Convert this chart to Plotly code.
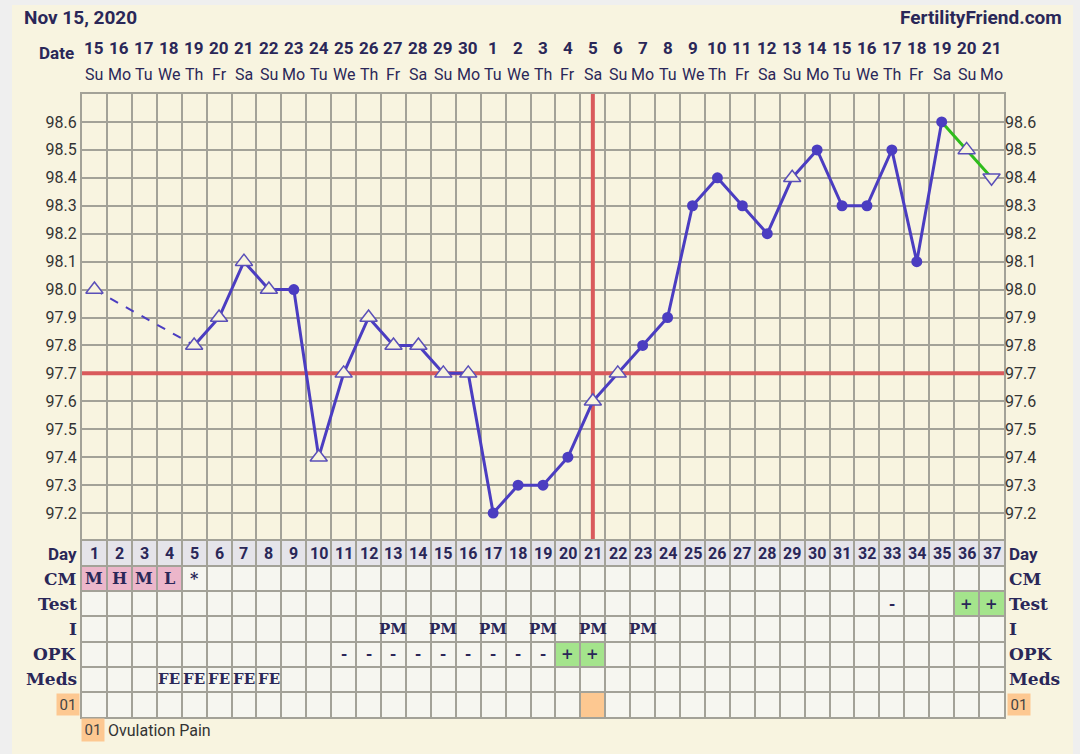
import plotly.graph_objects as go

W, H = 1080, 754

# ---------------- data ----------------
cycle_days = list(range(1, 38))
dates = [15, 16, 17, 18, 19, 20, 21, 22, 23, 24, 25, 26, 27, 28, 29, 30,
         1, 2, 3, 4, 5, 6, 7, 8, 9, 10, 11, 12, 13, 14, 15, 16, 17, 18, 19, 20, 21]
weekdays = ["Su", "Mo", "Tu", "We", "Th", "Fr", "Sa"] * 5 + ["Su", "Mo"]

temps = [98.0, None, None, None, 97.8, 97.9, 98.1, 98.0, 98.0, 97.4,
         97.7, 97.9, 97.8, 97.8, 97.7, 97.7, 97.2, 97.3, 97.3, 97.4,
         97.6, 97.7, 97.8, 97.9, 98.3, 98.4, 98.3, 98.2, 98.4, 98.5,
         98.3, 98.3, 98.5, 98.1, 98.6, 98.5, 98.4]
# marker kind: "c" filled circle, "t" open triangle up, "d" open triangle down
marker_kind = ["t", None, None, None, "t", "t", "t", "t", "c", "t",
               "t", "t", "t", "t", "t", "t", "c", "c", "c", "c",
               "t", "t", "c", "c", "c", "c", "c", "c", "t", "c",
               "c", "c", "c", "c", "c", "t", "d"]

coverline = 97.7
ovulation_day = 21

ytick_values = [97.2, 97.3, 97.4, 97.5, 97.6, 97.7, 97.8, 97.9, 98.0, 98.1, 98.2, 98.3, 98.4, 98.5, 98.6]
ytick_labels = ["97.2", "97.3", "97.4", "97.5", "97.6", "97.7", "97.8", "97.9",
                "98.0", "98.1", "98.2", "98.3", "98.4", "98.5", "98.6"]

row_labels = ["Day", "CM", "Test", "I", "OPK", "Meds", "01"]
cm_entries = {1: "M", 2: "H", 3: "M", 4: "L", 5: "*"}
cm_pink_days = [1, 2, 3, 4]
test_entries = {33: "-", 36: "+", 37: "+"}
test_green_days = [36, 37]
intercourse_entries = {13: "PM", 15: "PM", 17: "PM", 19: "PM", 21: "PM", 23: "PM"}
opk_entries = {11: "-", 12: "-", 13: "-", 14: "-", 15: "-", 16: "-", 17: "-",
               18: "-", 19: "-", 20: "+", 21: "+"}
opk_green_days = [20, 21]
meds_entries = {4: "FE", 5: "FE", 6: "FE", 7: "FE", 8: "FE"}
symptom_days = [21]

# ---------------- styles ----------------
NAVY = "#2a2758"
PURPLE = "#4b3dc1"
GRID = "#a3a298"
CREAM = "#f8f4dd"
RED = "#d95a5c"
SLAB = "DejaVu Serif"
SANS = "Roboto"

def px_x(p):
    return p / W

def px_y(p):
    return 1 - p / H

x_dom = [px_x(82), px_x(1004)]
main_dom = [px_y(541), px_y(94)]
table_dom = [px_y(717), px_y(541)]

fig = go.Figure()

# dashed segment (missing days)
fig.add_trace(go.Scatter(x=[cycle_days[0], cycle_days[4]], y=[temps[0], temps[4]],
                         mode="lines", line=dict(color=PURPLE, width=2, dash="dash"),
                         hoverinfo="skip", showlegend=False))
# main solid line days 5..35
fig.add_trace(go.Scatter(x=cycle_days[4:35], y=temps[4:35], mode="lines",
                         line=dict(color=PURPLE, width=3), showlegend=False))
# green segment days 35..37
fig.add_trace(go.Scatter(x=cycle_days[34:], y=temps[34:], mode="lines",
                         line=dict(color="#2fbd1c", width=3), showlegend=False))

def sel(kind):
    xs = [d for d, k in zip(cycle_days, marker_kind) if k == kind]
    ys = [t for t, k in zip(temps, marker_kind) if k == kind]
    return xs, ys

xs, ys = sel("c")
fig.add_trace(go.Scatter(x=xs, y=ys, mode="markers",
                         marker=dict(symbol="circle", size=11, color=PURPLE), showlegend=False))
xs, ys = sel("t")
fig.add_trace(go.Scatter(x=xs, y=ys, mode="markers",
                         marker=dict(symbol="triangle-up", size=15, color=CREAM,
                                     line=dict(color="#5a4fb8", width=1.5)), showlegend=False))
xs, ys = sel("d")
fig.add_trace(go.Scatter(x=xs, y=ys, mode="markers",
                         marker=dict(symbol="triangle-down", size=15, color=CREAM,
                                     line=dict(color="#5a4fb8", width=1.5)), showlegend=False))
# invisible trace for right axis
fig.add_trace(go.Scatter(x=[cycle_days[0]], y=[temps[0]], yaxis="y3", mode="markers",
                         marker=dict(opacity=0), hoverinfo="skip", showlegend=False))
# invisible trace for table subplot
fig.add_trace(go.Scatter(x=[1], y=[0.5], xaxis="x2", yaxis="y2", mode="markers",
                         marker=dict(opacity=0), hoverinfo="skip", showlegend=False))

shapes = []
# cream panel
shapes.append(dict(type="rect", xref="paper", yref="paper", x0=px_x(12), x1=px_x(1073),
                   y0=0, y1=px_y(5), fillcolor="#f8f4e0", line=dict(width=0), layer="below"))
# table backgrounds
shapes.append(dict(type="rect", xref="x2", yref="y2", x0=0.5, x1=37.5, y0=1, y1=7,
                   fillcolor="#f6f6f0", line=dict(width=0), layer="below"))
shapes.append(dict(type="rect", xref="x2", yref="y2", x0=0.5, x1=37.5, y0=0, y1=1,
                   fillcolor="#e5e4ea", line=dict(width=0), layer="below"))

def cell(day, row, color):
    shapes.append(dict(type="rect", xref="x2", yref="y2", x0=day - 0.5, x1=day + 0.5,
                       y0=row, y1=row + 1, fillcolor=color, line=dict(width=0), layer="below"))

for d in cm_pink_days:
    cell(d, 1, "#ecb6ca")
for d in test_green_days:
    cell(d, 2, "#a4e48c")
for d in opk_green_days:
    cell(d, 4, "#a4e48c")
for d in symptom_days:
    cell(d, 6, "#fdc891")

# coverline and ovulation line
shapes.append(dict(type="line", xref="x", yref="y", x0=0.5, x1=37.5, y0=coverline, y1=coverline,
                   line=dict(color=RED, width=4), layer="between"))
shapes.append(dict(type="line", xref="x", yref="y", x0=ovulation_day, x1=ovulation_day,
                   y0=97.1, y1=98.7, line=dict(color=RED, width=4), layer="between"))

ann = []
# title texts
ann.append(dict(text="<b>Nov 15, 2020</b>", xref="paper", yref="paper", x=px_x(22), y=px_y(17),
                xanchor="left", yanchor="middle", showarrow=False,
                font=dict(family=SANS, size=19, color=NAVY)))
ann.append(dict(text="<b>FertilityFriend.com</b>", xref="paper", yref="paper", x=px_x(1064), y=px_y(17),
                xanchor="right", yanchor="middle", showarrow=False,
                font=dict(family=SANS, size=19, color=NAVY)))
ann.append(dict(text="<b>Date</b>", xref="paper", yref="paper", x=px_x(76), y=px_y(53),
                xanchor="right", yanchor="middle", showarrow=False,
                font=dict(family=SANS, size=17, color=NAVY)))
for d, dt, wd in zip(cycle_days, dates, weekdays):
    ann.append(dict(text=f"<b>{dt}</b>", xref="x", yref="paper", x=d, y=px_y(48),
                    xanchor="center", yanchor="middle", showarrow=False,
                    font=dict(family=SANS, size=17, color=NAVY)))
    ann.append(dict(text=wd, xref="x", yref="paper", x=d, y=px_y(74),
                    xanchor="center", yanchor="middle", showarrow=False,
                    font=dict(family=SANS, size=16, color=NAVY)))
    ann.append(dict(text=f"<b>{d}</b>", xref="x2", yref="y2", x=d, y=0.5,
                    xanchor="center", yanchor="middle", showarrow=False,
                    font=dict(family=SANS, size=16, color=NAVY)))

def put(entries, row, size=15):
    for d, t in entries.items():
        ann.append(dict(text=f"<b>{t}</b>", xref="x2", yref="y2", x=d, y=row + 0.5,
                        xanchor="center", yanchor="middle", showarrow=False,
                        font=dict(family=SLAB, size=size, color=NAVY)))

put(cm_entries, 1, 16)
put(test_entries, 2, 15)
put(intercourse_entries, 3, 15)
put(opk_entries, 4, 15)
put(meds_entries, 5, 15)

# row labels both sides
for i, lab in enumerate(row_labels):
    yv = i + 0.5
    if lab == "01":
        for xx in (px_x(68), px_x(1019)):
            ann.append(dict(text="01", xref="paper", yref="y2", x=xx, y=yv,
                            xanchor="center", yanchor="middle", showarrow=False,
                            width=20, height=19, bgcolor="#fdc891",
                            font=dict(family=SANS, size=15, color="#444")))
        continue
    fam = SANS if lab == "Day" else SLAB
    sz = 17
    ann.append(dict(text=f"<b>{lab}</b>", xref="paper", yref="y2", x=px_x(79), y=yv,
                    xanchor="right", yanchor="middle", showarrow=False,
                    font=dict(family=fam, size=sz, color=NAVY)))
    ann.append(dict(text=f"<b>{lab}</b>", xref="paper", yref="y2", x=px_x(1007), y=yv,
                    xanchor="left", yanchor="middle", showarrow=False,
                    font=dict(family=fam, size=sz, color=NAVY)))

# legend of symptoms
ann.append(dict(text="01", xref="paper", yref="paper", x=px_x(92.5), y=px_y(730),
                xanchor="center", yanchor="middle", showarrow=False,
                width=20, height=20, bgcolor="#fdc891",
                font=dict(family=SANS, size=15, color="#444")))
ann.append(dict(text="Ovulation Pain", xref="paper", yref="paper", x=px_x(106), y=px_y(730),
                xanchor="left", yanchor="middle", showarrow=False,
                font=dict(family=SANS, size=16, color="#333")))

grid_x = [d - 0.5 for d in cycle_days] + [37.5]

fig.update_layout(
    width=W, height=H,
    margin=dict(l=0, r=0, t=0, b=0),
    paper_bgcolor="#efefef",
    plot_bgcolor=CREAM,
    showlegend=False,
    hovermode=False,
    shapes=shapes,
    annotations=ann,
    xaxis=dict(domain=x_dom, range=[0.5, 37.5], anchor="y", tickvals=grid_x,
               showticklabels=False, ticks="", showgrid=True, gridcolor=GRID, gridwidth=2,
               zeroline=False, showline=True, mirror=True, linecolor=GRID, linewidth=2),
    yaxis=dict(domain=main_dom, range=[97.1, 98.7], anchor="x", tickvals=ytick_values,
               ticktext=ytick_labels, ticks="", showgrid=True, gridcolor=GRID, gridwidth=2,
               zeroline=False, showline=True, mirror=True, linecolor=GRID, linewidth=2,
               tickfont=dict(family=SANS, size=16, color="#333")),
    yaxis3=dict(domain=main_dom, range=[97.1, 98.7], anchor="x", overlaying="y", side="right",
                tickvals=ytick_values, ticktext=ytick_labels, ticks="", showgrid=False,
                zeroline=False, showline=False,
                tickfont=dict(family=SANS, size=16, color="#333")),
    xaxis2=dict(domain=x_dom, range=[0.5, 37.5], anchor="y2", matches="x", tickvals=grid_x,
                showticklabels=False, ticks="", showgrid=True, gridcolor=GRID, gridwidth=2,
                zeroline=False, showline=True, mirror=True, linecolor=GRID, linewidth=2),
    yaxis2=dict(domain=table_dom, range=[7, 0], anchor="x2", tickvals=list(range(8)),
                showticklabels=False, ticks="", showgrid=True, gridcolor=GRID, gridwidth=2,
                zeroline=False, showline=True, mirror=True, linecolor=GRID, linewidth=2),
)

fig.write_html("out.html", config={"displayModeBar": False, "staticPlot": True},
               post_script="document.body.style.margin='0';document.body.style.background='#efefef';")
